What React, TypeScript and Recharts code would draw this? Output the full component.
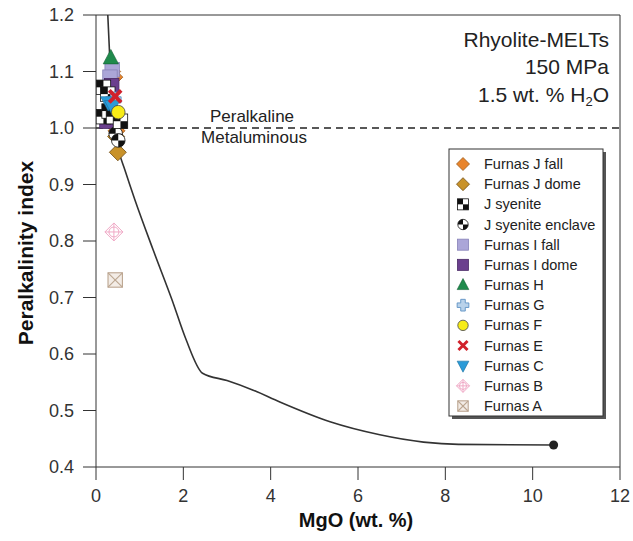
import React from "react";
import { ScatterChart, Scatter, XAxis, YAxis, ReferenceLine } from "recharts";

// ---------- data ----------
const xTicks = [0, 2, 4, 6, 8, 10, 12];
const yTicks = [0.4, 0.5, 0.6, 0.7, 0.8, 0.9, 1.0, 1.1, 1.2];

const meltsCurve = [
  { x: 0.27, y: 1.2 }, { x: 0.33, y: 1.1 }, { x: 0.42, y: 1.0 }, { x: 0.52, y: 0.96 },
  { x: 0.66, y: 0.926 }, { x: 0.89, y: 0.873 }, { x: 1.31, y: 0.784 }, { x: 1.74, y: 0.696 },
  { x: 2.06, y: 0.626 }, { x: 2.44, y: 0.566 }, { x: 3.0, y: 0.553 }, { x: 3.6, y: 0.536 },
  { x: 4.21, y: 0.515 }, { x: 5.36, y: 0.48 }, { x: 6.5, y: 0.457 }, { x: 7.5, y: 0.444 },
  { x: 8.3, y: 0.44 }, { x: 10.48, y: 0.439 },
];
const meltsEnd = [{ x: 10.48, y: 0.439 }];

const furnasJFall = [{ x: 0.37, y: 1.1 }, { x: 0.42, y: 1.09 }, { x: 0.47, y: 0.995 }];
const furnasJDome = [{ x: 0.46, y: 0.985 }, { x: 0.5, y: 0.957 }];
const furnasIFall = [{ x: 0.37, y: 1.103 }, { x: 0.32, y: 1.09 }];
const furnasIDome = [{ x: 0.25, y: 1.012 }, { x: 0.36, y: 1.075 }];
const furnasH = [{ x: 0.34, y: 1.124 }];
const furnasG = [{ x: 0.4, y: 1.05 }];
const furnasF = [{ x: 0.51, y: 1.028 }];
const furnasE = [{ x: 0.44, y: 1.056 }];
const furnasC = [{ x: 0.28, y: 1.045 }, { x: 0.37, y: 1.038 }];
const jSyenite = [
  { x: 0.17, y: 1.072 }, { x: 0.27, y: 1.06 }, { x: 0.17, y: 1.02 },
  { x: 0.3, y: 1.03 }, { x: 0.4, y: 1.02 }, { x: 0.56, y: 1.012 },
];
const jSyeniteEnclave = [{ x: 0.45, y: 0.99 }, { x: 0.51, y: 0.978 }];
const furnasB = [{ x: 0.41, y: 0.816 }];
const furnasA = [{ x: 0.44, y: 0.731 }];

const legendItems: { label: string; kind: string }[] = [
  { label: "Furnas J fall", kind: "jfall" },
  { label: "Furnas J dome", kind: "jdome" },
  { label: "J syenite", kind: "checker" },
  { label: "J syenite enclave", kind: "enclave" },
  { label: "Furnas I fall", kind: "ifall" },
  { label: "Furnas I dome", kind: "idome" },
  { label: "Furnas H", kind: "h" },
  { label: "Furnas G", kind: "g" },
  { label: "Furnas F", kind: "f" },
  { label: "Furnas E", kind: "e" },
  { label: "Furnas C", kind: "c" },
  { label: "Furnas B", kind: "b" },
  { label: "Furnas A", kind: "a" },
];

const FONT = "'Liberation Sans', Arial, sans-serif";

// ---------- markers ----------
function Marker({ kind, cx, cy, s }: { kind: string; cx: number; cy: number; s: number }) {
  const diamond = `${cx},${cy - s} ${cx + s},${cy} ${cx},${cy + s} ${cx - s},${cy}`;
  switch (kind) {
    case "jfall":
      return <polygon points={diamond} fill="#E8842C" stroke="#9A5A1A" strokeWidth={0.8} />;
    case "jdome":
      return <polygon points={diamond} fill="#C8922A" stroke="#6E4C14" strokeWidth={0.8} />;
    case "checker": {
      const h = s * 0.85;
      return (
        <g>
          <rect x={cx - h} y={cy - h} width={2 * h} height={2 * h} fill="#fff" stroke="#111" strokeWidth={0.8} />
          <rect x={cx - h} y={cy - h} width={h} height={h} fill="#111" />
          <rect x={cx} y={cy} width={h} height={h} fill="#111" />
        </g>
      );
    }
    case "enclave": {
      const r = s * 0.8;
      return (
        <g>
          <circle cx={cx} cy={cy} r={r} fill="#fff" stroke="#111" strokeWidth={0.8} />
          <path d={`M${cx},${cy} L${cx - r},${cy} A${r},${r} 0 0 1 ${cx},${cy - r} Z`} fill="#111" />
          <path d={`M${cx},${cy} L${cx + r},${cy} A${r},${r} 0 0 1 ${cx},${cy + r} Z`} fill="#111" />
        </g>
      );
    }
    case "ifall": {
      const h = s * 0.85;
      return <rect x={cx - h} y={cy - h} width={2 * h} height={2 * h} fill="#ABA6D8" stroke="#8782B8" strokeWidth={0.8} />;
    }
    case "idome": {
      const h = s * 0.85;
      return <rect x={cx - h} y={cy - h} width={2 * h} height={2 * h} fill="#6B3F8E" stroke="#4A2A66" strokeWidth={0.8} />;
    }
    case "h":
      return (
        <polygon
          points={`${cx},${cy - s} ${cx + s * 0.9},${cy + s * 0.7} ${cx - s * 0.9},${cy + s * 0.7}`}
          fill="#1F8A4C"
          stroke="#146034"
          strokeWidth={0.6}
        />
      );
    case "c":
      return (
        <polygon
          points={`${cx - s * 0.9},${cy - s * 0.7} ${cx + s * 0.9},${cy - s * 0.7} ${cx},${cy + s}`}
          fill="#2B9BD8"
          stroke="#1A6F9E"
          strokeWidth={0.6}
        />
      );
    case "g": {
      const a = s * 0.35;
      const b = s * 0.9;
      const d = `M${cx - a},${cy - b} H${cx + a} V${cy - a} H${cx + b} V${cy + a} H${cx + a} V${cy + b} H${cx - a} V${cy + a} H${cx - b} V${cy - a} H${cx - a} Z`;
      return <path d={d} fill="#B9D2EA" stroke="#5F92C4" strokeWidth={0.9} />;
    }
    case "f":
      return <circle cx={cx} cy={cy} r={s * 0.8} fill="#F7EC17" stroke="#444" strokeWidth={0.8} />;
    case "e": {
      const k = s * 0.7;
      return (
        <g stroke="#D1212B" strokeWidth={s * 0.45} strokeLinecap="butt">
          <line x1={cx - k} y1={cy - k} x2={cx + k} y2={cy + k} />
          <line x1={cx - k} y1={cy + k} x2={cx + k} y2={cy - k} />
        </g>
      );
    }
    case "b": {
      const r = s * 0.55;
      return (
        <g fill="none" stroke="#F0A9C6" strokeWidth={1}>
          <polygon points={diamond} fill="#fff" />
          <circle cx={cx} cy={cy} r={r} />
          <line x1={cx - s} y1={cy} x2={cx + s} y2={cy} />
          <line x1={cx} y1={cy - s} x2={cx} y2={cy + s} />
        </g>
      );
    }
    case "a": {
      const h = s * 0.8;
      return (
        <g stroke="#BBA590" strokeWidth={1.1}>
          <rect x={cx - h} y={cy - h} width={2 * h} height={2 * h} fill="#F3ECE6" />
          <line x1={cx - h} y1={cy - h} x2={cx + h} y2={cy + h} />
          <line x1={cx - h} y1={cy + h} x2={cx + h} y2={cy - h} />
        </g>
      );
    }
    default:
      return <g />;
  }
}

const shapeOf = (kind: string, s: number) => (props: any) =>
  props.cx == null ? <g /> : <Marker kind={kind} cx={props.cx} cy={props.cy} s={s} />;

const PLOT_S = 8.5;

export default function App() {
  const legendX = 449;
  const legendY = 149;
  const legendW = 154;
  const legendH = 267;
  const itemY0 = 164;
  const itemDy = 20.17;

  return (
    <div style={{ position: "absolute", left: 0, top: 0, width: 633, height: 541, background: "#fff" }}>
      <ScatterChart width={633} height={541} margin={{ top: 15, right: 13, left: 0, bottom: 0 }}>
        <XAxis
          type="number"
          dataKey="x"
          domain={[0, 12]}
          ticks={xTicks}
          interval={0}
          allowDataOverflow
          height={74}
          tickSize={13}
          tickMargin={9}
          stroke="#333"
          tick={{ fill: "#333", fontSize: 18, fontFamily: FONT }}
        />
        <YAxis
          type="number"
          dataKey="y"
          domain={[0.4, 1.2]}
          ticks={yTicks}
          interval={0}
          allowDataOverflow
          width={96}
          tickSize={13}
          tickMargin={9}
          stroke="#333"
          tickFormatter={(v: number) => v.toFixed(1)}
          tick={{ fill: "#333", fontSize: 18, fontFamily: FONT }}
        />
        <ReferenceLine y={1.2} stroke="#333" strokeWidth={1} />
        <ReferenceLine x={12} stroke="#333" strokeWidth={1} />
        <ReferenceLine y={1.0} stroke="#222" strokeWidth={1.3} strokeDasharray="7 5" />

        <Scatter
          data={meltsCurve}
          isAnimationActive={false}
          line={{ stroke: "#333", strokeWidth: 1.6 }}
          lineJointType="monotoneX"
          shape={() => <g />}
        />
        <Scatter
          data={meltsEnd}
          isAnimationActive={false}
          shape={(p: any) => <circle cx={p.cx} cy={p.cy} r={4.5} fill="#222" />}
        />

        <Scatter data={furnasJFall} isAnimationActive={false} shape={shapeOf("jfall", PLOT_S)} />
        <Scatter data={furnasIFall} isAnimationActive={false} shape={shapeOf("ifall", PLOT_S)} />
        <Scatter data={furnasH} isAnimationActive={false} shape={shapeOf("h", PLOT_S)} />
        <Scatter data={furnasIDome} isAnimationActive={false} shape={shapeOf("idome", PLOT_S)} />
        <Scatter data={furnasJDome} isAnimationActive={false} shape={shapeOf("jdome", PLOT_S)} />
        <Scatter data={jSyeniteEnclave} isAnimationActive={false} shape={shapeOf("enclave", PLOT_S)} />
        <Scatter data={jSyenite} isAnimationActive={false} shape={shapeOf("checker", PLOT_S)} />
        <Scatter data={furnasG} isAnimationActive={false} shape={shapeOf("g", PLOT_S)} />
        <Scatter data={furnasC} isAnimationActive={false} shape={shapeOf("c", PLOT_S)} />
        <Scatter data={furnasE} isAnimationActive={false} shape={shapeOf("e", PLOT_S)} />
        <Scatter data={furnasF} isAnimationActive={false} shape={shapeOf("f", PLOT_S)} />
        <Scatter data={furnasB} isAnimationActive={false} shape={shapeOf("b", 9)} />
        <Scatter data={furnasA} isAnimationActive={false} shape={shapeOf("a", 9)} />
      </ScatterChart>

      <svg
        width={633}
        height={541}
        style={{ position: "absolute", left: 0, top: 0, pointerEvents: "none" }}
        fontFamily={FONT}
      >
        {/* annotation */}
        <g fill="#222" fontSize={21} textAnchor="end">
          <text x={609} y={47}>Rhyolite-MELTs</text>
          <text x={609} y={74}>150 MPa</text>
          <text x={609} y={102}>
            1.5 wt. % H<tspan fontSize={13} dy={4}>2</tspan>
            <tspan dy={-4}>O</tspan>
          </text>
        </g>
        <text x={252} y={122} fontSize={17} fill="#222" textAnchor="middle">Peralkaline</text>
        <text x={254} y={143} fontSize={17} fill="#222" textAnchor="middle">Metaluminous</text>

        {/* axis titles */}
        <text x={356} y={527} fontSize={20} fontWeight="bold" fill="#111" textAnchor="middle">
          MgO (wt. %)
        </text>
        <text
          transform="translate(33,253) rotate(-90)"
          fontSize={21}
          fontWeight="bold"
          fill="#111"
          textAnchor="middle"
        >
          Peralkalinity index
        </text>

        {/* legend */}
        <rect x={legendX + 3} y={legendY + 3} width={legendW} height={legendH} fill="#555" />
        <rect x={legendX} y={legendY} width={legendW} height={legendH} fill="#fff" stroke="#333" strokeWidth={1} />
        {legendItems.map((it, i) => {
          const cy = itemY0 + i * itemDy;
          return (
            <g key={it.label}>
              <Marker kind={it.kind} cx={463} cy={cy} s={6.5} />
              <text x={484} y={cy + 5} fontSize={14.5} fill="#222">
                {it.label}
              </text>
            </g>
          );
        })}
      </svg>
    </div>
  );
}
